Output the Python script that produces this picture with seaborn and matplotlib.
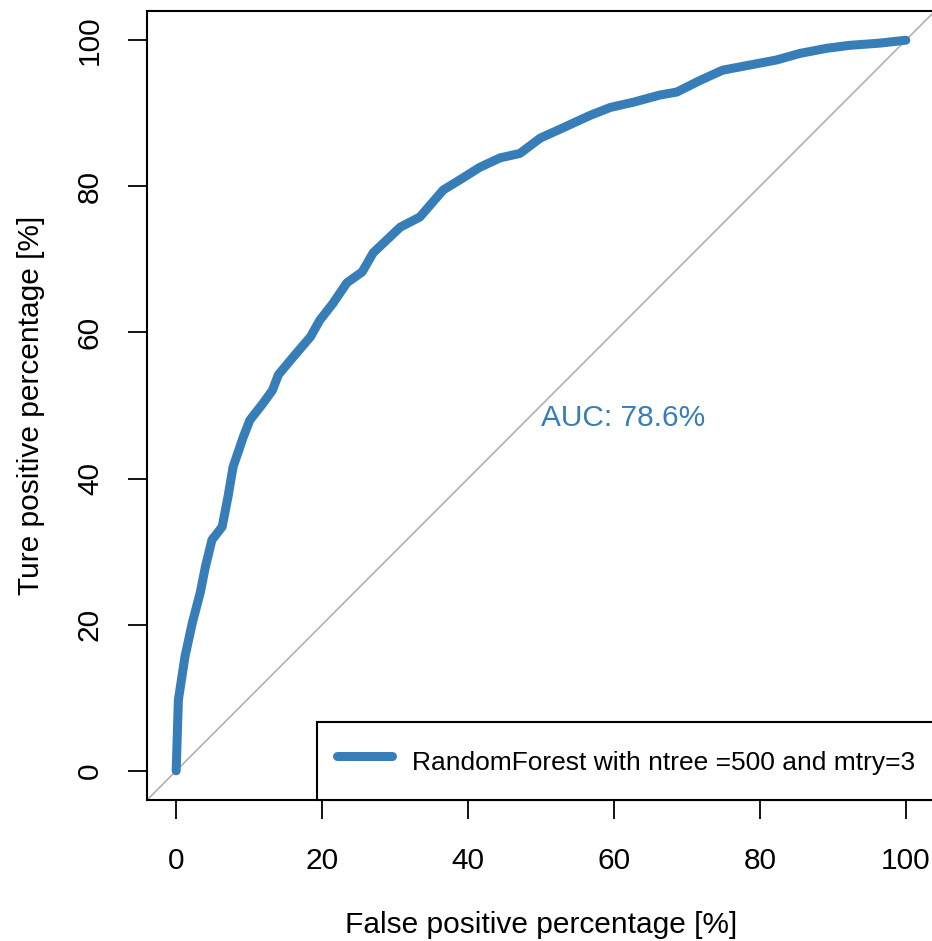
"""
ROC curve for the random forest model
"""

import matplotlib
matplotlib.use("Agg")
import matplotlib.pyplot as plt
import pandas as pd
import seaborn as sns

# ROC points (percent)
fpr = [0, 0.3, 1.2, 2.2, 3.3, 4.0, 4.9, 6.3, 7.1, 7.8, 9.2, 10.1, 11.9, 13.2,
       14.0, 16.0, 18.4, 19.7, 21.5, 23.4, 25.5, 27.0, 30.7, 33.4, 36.6, 38.9,
       41.6, 44.4, 47.1, 49.9, 53.0, 56.7, 59.5, 62.6, 66.3, 68.6, 71.8, 74.9,
       78.6, 82.3, 85.5, 89.2, 92.3, 96.4, 100]
tpr = [0, 9.7, 15.6, 20.2, 24.4, 27.9, 31.6, 33.4, 37.5, 41.6, 45.7, 48.0,
       50.3, 52.1, 54.2, 56.6, 59.4, 61.7, 64.0, 66.8, 68.3, 70.9, 74.4, 75.8,
       79.5, 80.9, 82.6, 83.9, 84.5, 86.6, 88.0, 89.7, 90.8, 91.5, 92.5, 92.9,
       94.5, 95.9, 96.6, 97.3, 98.2, 98.9, 99.3, 99.6, 100]
auc = 78.6
label = "RandomForest with ntree =500 and mtry=3"
ticks = [0, 20, 40, 60, 80, 100]

blue = "#377EB8"

sns.set_style("white")
plt.rcParams["font.family"] = ["Liberation Sans", "DejaVu Sans"]
plt.rcParams["text.color"] = "black"
plt.rcParams["axes.labelcolor"] = "black"
plt.rcParams["xtick.color"] = "black"
plt.rcParams["ytick.color"] = "black"

fig = plt.figure(figsize=(9.32, 9.41), dpi=100)
ax = fig.add_axes([147 / 932, 141 / 941, 788 / 932, 789 / 941])

roc = pd.DataFrame({"fpr": fpr, "tpr": tpr})
sns.lineplot(data=roc, x="fpr", y="tpr", ax=ax, color=blue, linewidth=6.5,
             sort=False, estimator=None, label=label,
             solid_capstyle="round")
ax.axline((0, 0), slope=1, color="#B0B0B0", linewidth=1.2, zorder=1)

ax.text(50, 48.3, "AUC: %.1f%%" % auc, color=blue, fontsize=21.5,
        ha="left", va="center")

ax.set_xlim(-4, 104)
ax.set_ylim(-4, 104)
ax.set_xticks(ticks)
ax.set_yticks(ticks)
ax.tick_params(axis="both", direction="out", length=14, width=1.3,
               labelsize=21.5, bottom=True, left=True)
ax.tick_params(axis="x", pad=20)
ax.tick_params(axis="y", pad=17)
for t in ax.get_yticklabels():
    t.set_rotation(90)
    t.set_va("center")
for s in ax.spines.values():
    s.set_color("black")
    s.set_linewidth(1.5)

ax.set_xlabel("False positive percentage [%]", fontsize=21.5, labelpad=26)
ax.set_ylabel("Ture positive percentage [%]", fontsize=21.5, labelpad=22)

leg = ax.legend(loc="lower right", fontsize=19, frameon=True, fancybox=False,
                borderaxespad=0, borderpad=0.75, handlelength=2.1,
                handletextpad=0.75, handleheight=1.85)
leg.get_frame().set_edgecolor("black")
leg.get_frame().set_linewidth(1.5)
leg.get_frame().set_alpha(1)

fig.savefig("out.png", dpi=100)
